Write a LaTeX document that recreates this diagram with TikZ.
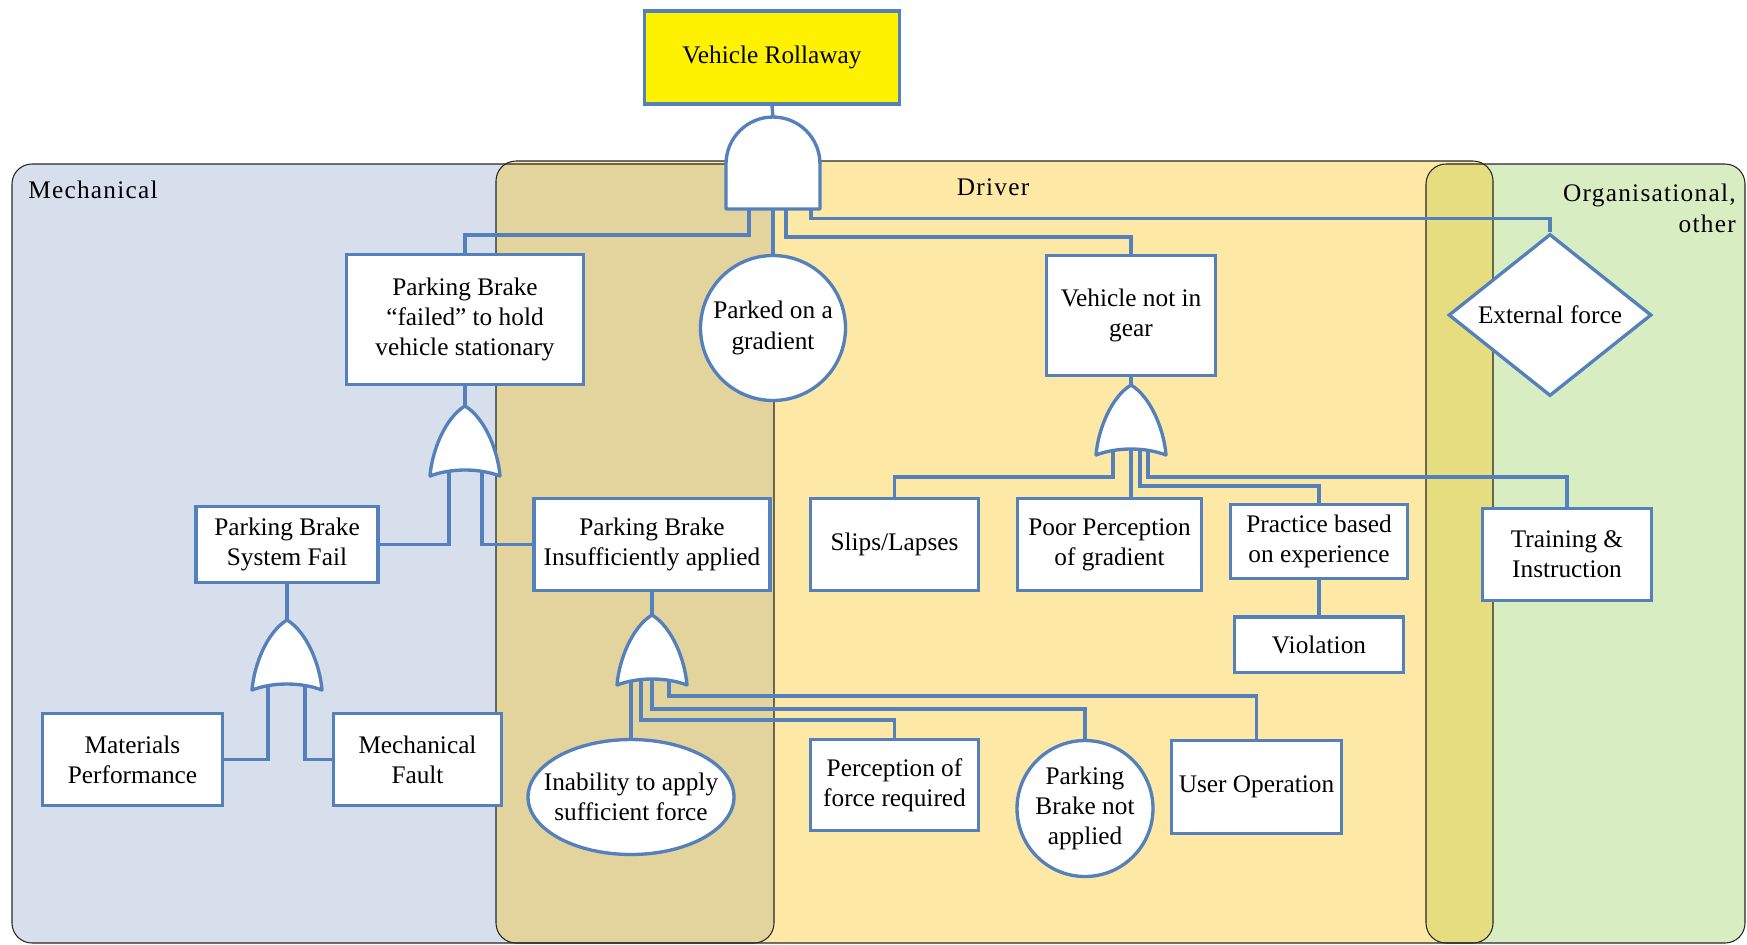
\documentclass[tikz,border=0pt]{standalone}
\usepackage{fontspec}
\setmainfont{Liberation Serif}
\newfontfamily\zonefamily[LetterSpace=5]{Liberation Serif}
\usetikzlibrary{shapes.geometric, positioning, calc}
\usepackage{xcolor}
\definecolor{faultblue}{RGB}{84,128,188}
\definecolor{mechfill}{RGB}{214,223,235}
\definecolor{drvfill}{RGB}{254,232,166}
\definecolor{mixfill}{RGB}{226,212,156}
\definecolor{orgfill}{RGB}{217,237,195}
\definecolor{olivefill}{RGB}{229,221,128}
\newcommand{\evfont}{\fontsize{14.4}{17.2}\selectfont}
\newcommand{\zonefont}{\zonefamily\fontsize{14.4}{17.6}\selectfont}
\tikzstyle{event} = [rectangle, draw=faultblue, line width=1.9pt, fill=white,
    align=center, font=\evfont, inner sep=2pt]
\tikzstyle{topev} = [event, fill=yellow, minimum width=5.1cm, minimum height=1.86cm]
\tikzstyle{basic} = [ellipse, draw=faultblue, line width=1.9pt, fill=white,
    align=center, font=\evfont, inner ysep=0pt]
\tikzstyle{undev} = [diamond, draw=faultblue, line width=1.9pt, fill=white,
    align=center, font=\evfont, inner sep=0pt]
\tikzstyle{wire} = [draw=faultblue, line width=1.9pt]
\tikzstyle{gatebody} = [draw=faultblue, line width=1.9pt, fill=white, line join=round]
\tikzstyle{zone} = [rounded corners=0.4cm]
\tikzstyle{zoneline} = [zone, draw=black!85, line width=0.6pt]
\tikzstyle{zonelabel} = [font=\zonefont, inner sep=0pt]
\tikzset{
  orgate/.pic={
    \draw[gatebody] (0,-70) .. controls (20,-58) and (33,-25) .. (35,0)
      .. controls (14,-8) and (-14,-8) .. (-35,0)
      .. controls (-33,-25) and (-20,-58) .. (0,-70) -- cycle;
  },
  andgate/.pic={
    \draw[gatebody] (-47,0) -- (-47,-45) arc[start angle=180, end angle=0, radius=0.94cm]
      -- (47,0) -- cycle;
  }
}

\begin{document}
\begin{tikzpicture}[x=0.02cm, y=-0.02cm]
\useasboundingbox (0,0) rectangle (1747,944);

% zones
\fill[zone, mechfill] (12,164) rectangle (774,943);
\fill[zone, drvfill] (496,161) rectangle (1493,943);
\fill[zone, orgfill] (1426,164) rectangle (1745,943);
\begin{scope}
  \clip[zone] (12,164) rectangle (774,943);
  \fill[zone, mixfill] (496,161) rectangle (1493,943);
\end{scope}
\begin{scope}
  \clip[zone] (496,161) rectangle (1493,943);
  \fill[zone, olivefill] (1426,164) rectangle (1745,943);
\end{scope}
\draw[zoneline] (12,164) rectangle (774,943);
\draw[zoneline] (496,161) rectangle (1493,943);
\draw[zoneline] (1426,164) rectangle (1745,943);

\node (lmech) [zonelabel, anchor=west] at (28,190) {Mechanical};
\node (ldrv) [zonelabel] at (993,187) {Driver};
\node (lorg) [zonelabel, anchor=east, align=right] at (1736,208) {Organisational,\\other};

% events
\node (top) [topev] at (772,57.5) {Vehicle Rollaway};
\node (pbf) [event, minimum width=4.74cm, minimum height=2.6cm] at (465,319.5)
    {Parking Brake\\“failed” to hold\\vehicle stationary};
\node (parked) [basic, minimum width=2.9cm, minimum height=2.9cm, inner xsep=-0.18cm]
    at (773,328) {Parked on a\\gradient};
\node (vng) [event, minimum width=3.38cm, minimum height=2.4cm] at (1131,315.5)
    {Vehicle not in\\gear};
\node (ext) [undev, minimum width=4.06cm, minimum height=3.06cm] at (1550,315)
    {External force};
\node (pbs) [event, minimum width=3.64cm, minimum height=1.52cm] at (287,544.5)
    {Parking Brake\\System Fail};
\node (pbi) [event, minimum width=4.72cm, minimum height=1.84cm] at (652,544.5)
    {Parking Brake\\Insufficiently applied};
\node (mat) [event, minimum width=3.6cm, minimum height=1.84cm] at (132.5,759.5)
    {Materials\\Performance};
\node (mfault) [event, minimum width=3.36cm, minimum height=1.84cm] at (417.5,759.5)
    {Mechanical\\Fault};
\node (inab) [basic, minimum width=4.12cm, minimum height=2.3cm, inner xsep=-0.3cm]
    at (631,797) {Inability to apply\\sufficient force};
\node (perc) [event, minimum width=3.36cm, minimum height=1.82cm] at (894.5,785)
    {Perception of\\force required};
\node (pbnot) [basic, minimum width=2.72cm, minimum height=2.72cm, inner xsep=-0.08cm]
    at (1085,808.5) {Parking\\Brake not\\applied};
\node (useop) [event, minimum width=3.4cm, minimum height=1.86cm] at (1256.5,787)
    {User Operation};
\node (slips) [event, minimum width=3.36cm, minimum height=1.84cm] at (894.5,544.5)
    {Slips/Lapses};
\node (poor) [event, minimum width=3.68cm, minimum height=1.84cm] at (1109.5,544.5)
    {Poor Perception\\of gradient};
\node (prac) [event, minimum width=3.54cm, minimum height=1.48cm] at (1319,541.5)
    {Practice based\\on experience};
\node (viol) [event, minimum width=3.38cm, minimum height=1.12cm, below=0.7cm of prac]
    {Violation};
\node (train) [event, minimum width=3.38cm, minimum height=1.84cm] at (1567,554.5)
    {Training \&\\Instruction};

% gates
\coordinate (g0) at (773,209);
\coordinate (g1) at (465,476);
\coordinate (g2) at (287,690);
\coordinate (g3) at (652,685);
\coordinate (g4) at (1131,455);

% connectors
\draw[wire] ($(g0)+(0,-92)$) -- (top.south);
\draw[wire] ($(g0)+(-24,-6)$) |- ($(pbf.north)+(0,-18)$) -- (pbf.north);
\draw[wire] ($(g0)+(0,-6)$) -- (parked.north);
\draw[wire] ($(g0)+(13,-6)$) |- ($(vng.north)+(0,-17)$) -- (vng.north);
\draw[wire] ($(g0)+(38,-6)$) |- ($(ext.north)+(0,-14)$) -- (ext.north);

\draw[wire] ($(g1)+(0,-70)$) -- (pbf.south);
\draw[wire] ($(g1)+(-16,-8)$) |- (pbs.east);
\draw[wire] ($(g1)+(17,-8)$) |- (pbi.west);

\draw[wire] ($(g2)+(0,-70)$) -- (pbs.south);
\draw[wire] ($(g2)+(-19,-8)$) |- (mat.east);
\draw[wire] ($(g2)+(18,-8)$) |- (mfault.west);

\draw[wire] ($(g3)+(0,-70)$) -- (pbi.south);
\draw[wire] ($(g3)+(-21,-8)$) -- (inab.north);
\draw[wire] ($(g3)+(-11,-8)$) |- ($(perc.north)+(0,-18)$) -- (perc.north);
\draw[wire] ($(g3)+(0,-8)$) |- ($(pbnot.north)+(0,-30)$) -- (pbnot.north);
\draw[wire] ($(g3)+(17,-8)$) |- ($(useop.north)+(0,-43)$) -- (useop.north);

\draw[wire] ($(g4)+(0,-70)$) -- (vng.south);
\draw[wire] ($(g4)+(-18,-8)$) |- ($(slips.north)+(0,-20)$) -- (slips.north);
\draw[wire] ($(g4)+(0,-8)$) -- (poor.north -| g4);
\draw[wire] ($(g4)+(9,-8)$) |- ($(prac.north)+(0,-17)$) -- (prac.north);
\draw[wire] ($(g4)+(17,-8)$) |- ($(train.north)+(0,-30)$) -- (train.north);
\draw[wire] (prac.south) -- (viol.north);

\pic at (g0) {andgate};
\pic at (g1) {orgate};
\pic at (g2) {orgate};
\pic at (g3) {orgate};
\pic at (g4) {orgate};
\end{tikzpicture}
\end{document}
